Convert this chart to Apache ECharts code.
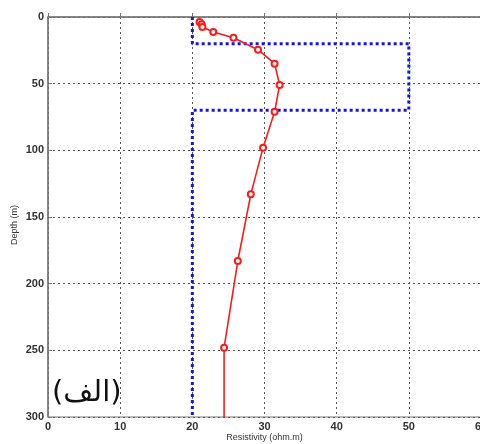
<!DOCTYPE html>
<html>
<head>
<meta charset="utf-8">
<script src="https://cdn.jsdelivr.net/npm/echarts@6/dist/echarts.min.js"></script>
<style>html,body{margin:0;padding:0;background:#fff}#chart{width:480px;height:444px}</style>
</head>
<body>
<div id="chart"></div>
<script>
// measured curve (red)
const resistivity = [21.0, 21.3, 21.4, 22.9, 25.7, 29.1, 31.4, 32.1, 31.4, 29.8, 28.1, 26.3, 24.4, 24.4]
const depth       = [3.8, 5.5, 7.5, 11.2, 15.5, 24.5, 35, 51, 71, 98, 133, 183, 248, 300]
// model (blue dotted)
const modelRes   = [20, 20, 50, 50, 20, 20]
const modelDepth = [0, 20, 20, 70, 70, 300]
const xTicks = [0, 10, 20, 30, 40, 50, 60]
const yTicks = [0, 50, 100, 150, 200, 250, 300]

const chart = echarts.init(document.getElementById('chart'))
const labelStyle = { color: '#333', fontSize: 11, fontFamily: 'Liberation Sans', fontWeight: 'bold' }
const gridLine = { show: true, lineStyle: { color: '#555', type: [2, 3], width: 1 } }

chart.setOption({
  animation: false,
  grid: { left: 48, top: 17, right: -1, bottom: 27, show: true, borderColor: '#777', borderWidth: 1, outerBoundsMode: 'none', containLabel: false },
  xAxis: {
    type: 'value', min: xTicks[0], max: xTicks[xTicks.length - 1], interval: 10,
    name: 'Resistivity (ohm.m)', nameLocation: 'middle', nameGap: 16, nameMoveOverlap: false,
    nameTextStyle: { color: '#333', fontSize: 9, fontFamily: 'Liberation Sans' },
    axisLine: { lineStyle: { color: '#777', width: 1.5 } },
    axisTick: { inside: true, length: 4, lineStyle: { color: '#777' } },
    axisLabel: { ...labelStyle, margin: 4 },
    splitLine: gridLine
  },
  yAxis: {
    type: 'value', inverse: true, min: yTicks[0], max: yTicks[yTicks.length - 1], interval: 50,
    name: 'Depth (m)', nameLocation: 'middle', nameGap: 29, nameRotate: 90, nameMoveOverlap: false,
    nameTextStyle: { color: '#333', fontSize: 9, fontFamily: 'Liberation Sans', padding: [0, 16, 0, 0] },
    axisLine: { lineStyle: { color: '#777', width: 1.5 } },
    axisTick: { inside: true, length: 4, lineStyle: { color: '#777' } },
    axisLabel: { ...labelStyle, margin: 4 },
    splitLine: gridLine
  },
  series: [
    {
      type: 'line', data: modelRes.map((r, i) => [r, modelDepth[i]]),
      symbol: 'none', z: 2,
      lineStyle: { color: '#1414e6', width: 3, type: [3, 3] }
    },
    {
      type: 'line', data: resistivity.map((r, i) => ({ value: [r, depth[i]], symbol: i === depth.length - 1 ? 'none' : 'emptyCircle' })),
      symbolSize: 6, z: 3,
      itemStyle: { color: '#ff1a1a', borderWidth: 1.2 },
      lineStyle: { color: '#ff1a1a', width: 1.6 }
    }
  ],
  graphic: [{
    type: 'text', left: 52, top: 379,
    style: { text: '(الف)', font: '29px "DejaVu Sans"', fill: '#111' }
  }]
})
</script>
</body>
</html>
